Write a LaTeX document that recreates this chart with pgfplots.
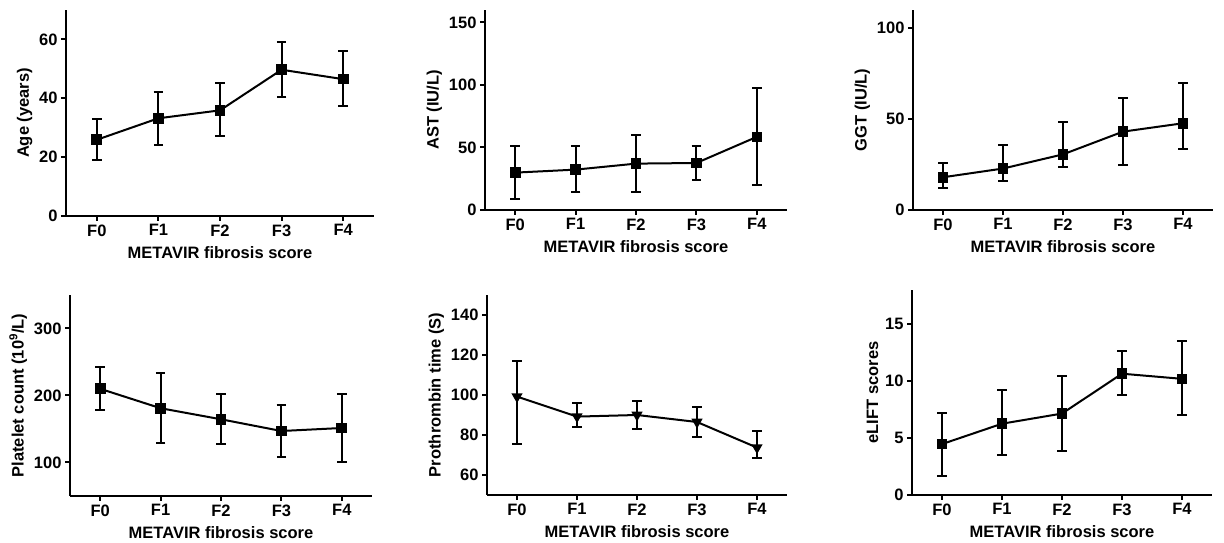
\documentclass[border=0pt]{standalone}
\usepackage{fontspec}
\setmainfont{Liberation Sans}
\usepackage{pgfplots}
\pgfplotsset{compat=1.18}

\newcommand{\pfont}{\bfseries\fontsize{16.5}{18}\selectfont}

\pgfplotsset{
  panel/.style={
    scale only axis, anchor=south west, clip=false,
    axis lines=left, axis line style={-, line width=2pt},
    xmin=-0.5, xmax=4.5, xtick={0,1,2,3,4}, xticklabels={F0,F1,F2,F3,F4},
    tick align=outside, major tick length=5pt,
    tick style={line width=2pt, black},
    ticklabel style={font=\pfont},
    label style={font=\pfont},
    xlabel style={yshift=-3pt},
    /pgf/number format/assume math mode=true,
    xlabel={METAVIR fibrosis score},
  },
  meanline/.style={
    black, line width=2pt, mark=square*, mark size=4.3pt,
    mark options={solid, fill=black},
    error bars/y dir=both, error bars/y explicit,
    error bars/error bar style={line width=2pt, black},
    error bars/error mark options={rotate=90, mark size=4.8pt, line width=2pt, black},
  },
}

\begin{document}
\begin{tikzpicture}
\path[use as bounding box] (0pt,0pt) rectangle (1224pt,543pt);

% Age
\begin{axis}[panel, at={(66pt,327pt)}, width=308pt, height=206pt,
  ymin=0, ymax=70, ytick={0,20,40,60}, ylabel={Age (years)}]
\addplot[meanline] table[x=x, y=y, y error plus=ep, y error minus=em] {
x y ep em
0 25.9 7.0 6.9
1 33.2 9.0 9.0
2 35.9 9.2 8.8
3 49.7 9.3 9.1
4 46.5 9.4 9.1
};
\end{axis}

% AST
\begin{axis}[panel, at={(485pt,333pt)}, width=302pt, height=200pt,
  ymin=0, ymax=160, ytick={0,50,100,150}, ylabel={AST (IU/L)}]
\addplot[meanline] table[x=x, y=y, y error plus=ep, y error minus=em] {
x y ep em
0 29.9 21.3 21.4
1 32.3 18.7 18.2
2 37.1 22.7 22.7
3 37.6 13.6 13.6
4 58.5 38.7 38.5
};
\end{axis}

% GGT
\begin{axis}[panel, at={(913pt,333pt)}, width=300pt, height=200pt,
  ymin=0, ymax=110, ytick={0,50,100}, ylabel={GGT (IU/L)}]
\addplot[meanline] table[x=x, y=y, y error plus=ep, y error minus=em] {
x y ep em
0 18.0 7.9 6.1
1 22.8 13.0 6.8
2 30.6 18.0 6.7
3 43.1 18.7 18.1
4 47.7 22.0 13.9
};
\end{axis}

% Platelet
\begin{axis}[panel, at={(70pt,47pt)}, width=302pt, height=201pt,
  ymin=50, ymax=350, ytick={100,200,300}, ylabel={Platelet count (10\textsuperscript{9}/L)}]
\addplot[meanline] table[x=x, y=y, y error plus=ep, y error minus=em] {
x y ep em
0 210 33 31.5
1 181 52.5 52
2 164.5 38 37
3 147 39 38.5
4 151.5 50.5 50.5
};
\end{axis}

% Prothrombin
\begin{axis}[panel, at={(487pt,48pt)}, width=300pt, height=200pt,
  ymin=50, ymax=150, ytick={60,80,100,120,140}, ylabel={Prothrombin time (S)}]
\addplot[meanline, mark=triangle*, mark size=4.5pt, mark options={rotate=180}] table[x=x, y=y, y error plus=ep, y error minus=em] {
x y ep em
0 99.2 17.8 23.9
1 89.2 6.6 5.2
2 90.0 6.8 7.0
3 86.5 7.5 7.5
4 73.7 8.3 5.4
};
\end{axis}

% eLIFT
\begin{axis}[panel, at={(912pt,48pt)}, width=300pt, height=205pt,
  ymin=0, ymax=18, ytick={0,5,10,15}, ylabel={eLIFT scores}]
\addplot[meanline] table[x=x, y=y, y error plus=ep, y error minus=em] {
x y ep em
0 4.47 2.73 2.79
1 6.26 2.92 2.79
2 7.15 3.29 3.27
3 10.65 2.00 1.91
4 10.20 3.30 3.20
};
\end{axis}
\end{tikzpicture}
\end{document}
